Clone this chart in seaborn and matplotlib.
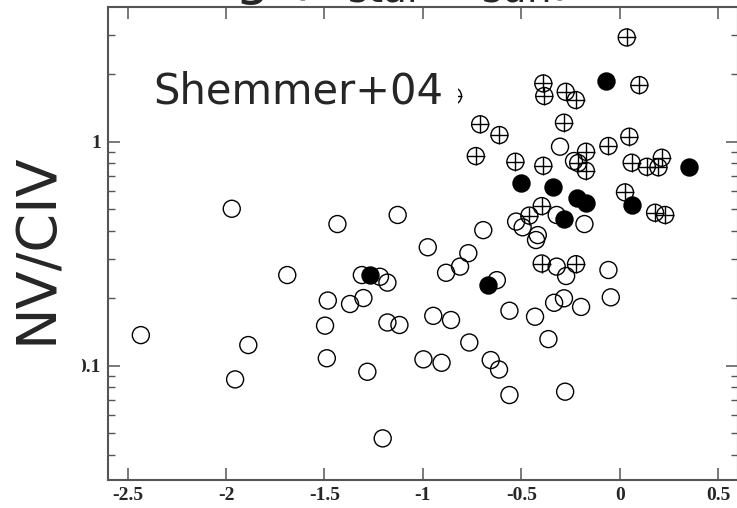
import numpy as np
import pandas as pd
import matplotlib
matplotlib.use("Agg")
import matplotlib.pyplot as plt
import seaborn as sns
from matplotlib.ticker import FixedLocator, LogLocator, NullLocator, NullFormatter
from matplotlib.patches import Rectangle

# ---------------- data ----------------
x_open = [-0.303, -0.232, -0.526, -0.493, -0.320, -0.179, -0.693, -0.416, -0.425, -0.975,
          -0.769, -0.811, -0.882, -0.624, -0.320, -0.272, -0.057, -0.045, -0.283, -0.333,
          -0.196, -0.560, -0.430, -0.947, -0.857, -0.764, -0.362, -0.997, -0.905, -0.655,
          -0.613, -0.560, -0.277, -1.971, -1.434, -1.128, -1.689, -1.310, -1.218, -1.180,
          -1.483, -1.370, -1.302, -1.497, -1.180, -1.119, -2.433, -1.887, -1.954, -1.488,
          -1.282, -1.204]
y_open = [0.950, 0.820, 0.440, 0.415, 0.471, 0.429, 0.403, 0.383, 0.364, 0.338,
          0.318, 0.277, 0.260, 0.241, 0.277, 0.2515, 0.2675, 0.202, 0.200, 0.191,
          0.183, 0.176, 0.1655, 0.167, 0.160, 0.127, 0.1315, 0.1068, 0.1031, 0.106,
          0.0962, 0.074, 0.0766, 0.502, 0.429, 0.471, 0.254, 0.254, 0.2495, 0.235,
          0.1955, 0.1886, 0.2005, 0.151, 0.156, 0.152, 0.137, 0.1237, 0.0869, 0.108,
          0.094, 0.0474]

x_plus = [0.036, -0.388, 0.100, -0.383, -0.274, -0.223, -0.709, -0.611, -0.283, -0.731,
          -0.530, -0.388, -0.171, -0.057, 0.049, -0.211, -0.172, 0.061, 0.138, 0.197,
          0.214, 0.027, 0.180, 0.231, -0.396, -0.459, -0.847, -0.396, -0.222]
y_plus = [2.92, 1.82, 1.79, 1.60, 1.67, 1.535, 1.196, 1.071, 1.216, 0.863,
          0.814, 0.781, 0.902, 0.957, 1.053, 0.803, 0.742, 0.806, 0.773, 0.769,
          0.848, 0.594, 0.482, 0.471, 0.516, 0.468, 1.60, 0.286, 0.284]

x_filled = [-0.071, 0.351, -0.503, -0.340, -0.218, -0.172, 0.061, -0.284, -0.667, -1.268]
y_filled = [1.866, 0.771, 0.652, 0.630, 0.562, 0.534, 0.522, 0.453, 0.229, 0.254]

x_ticks = [-2.5, -2.0, -1.5, -1.0, -0.5, 0.0, 0.5]
x_tick_labels = ["-2.5", "-2", "-1.5", "-1", "-0.5", "0", "0.5"]
y_ticks = [0.1, 1.0]
y_tick_labels = ["0.1", "1"]

df_open = pd.DataFrame({"x": x_open, "y": y_open})
df_plus = pd.DataFrame({"x": x_plus, "y": y_plus})
df_filled = pd.DataFrame({"x": x_filled, "y": y_filled})

# ---------------- figure ----------------
sns.set_style("ticks")
plt.rcParams["font.family"] = ["DejaVu Sans"]

fig = plt.figure(figsize=(7.37, 5.08), dpi=100)
ax = fig.add_axes([0.1465, 0.0551, 0.8545, 0.9305])

S = 150
sns.scatterplot(data=df_open, x="x", y="y", ax=ax, marker="o", s=S,
                color="black", facecolors="none", edgecolors="black",
                linewidth=1.0, zorder=3)
sns.scatterplot(data=df_plus, x="x", y="y", ax=ax, marker="o", s=S,
                color="black", facecolors="none", edgecolors="black",
                linewidth=1.0, zorder=3)
sns.scatterplot(data=df_plus, x="x", y="y", ax=ax, marker="+", s=S,
                color="black", linewidth=1.0, zorder=3)
sns.scatterplot(data=df_filled, x="x", y="y", ax=ax, marker="o", s=S,
                color="black", facecolors="black", edgecolors="black",
                linewidth=1.0, zorder=4)

ax.set_yscale("log")
ax.set_xlim(-2.6, 0.6)
ax.set_ylim(0.0309, 3.98)
ax.set_xlabel("")
ax.set_ylabel("")

ax.xaxis.set_major_locator(FixedLocator(x_ticks))
ax.xaxis.set_minor_locator(NullLocator())
ax.set_xticklabels(x_tick_labels)
ax.yaxis.set_major_locator(FixedLocator(y_ticks))
ax.yaxis.set_minor_locator(LogLocator(base=10, subs=np.arange(2, 10)))
ax.yaxis.set_minor_formatter(NullFormatter())
ax.set_yticklabels(y_tick_labels)

ax.tick_params(which="both", direction="in", top=True, right=True, color="#555555")
ax.tick_params(which="major", length=8.5, width=1.1, pad=5)
ax.tick_params(which="minor", length=4.8, width=1.0)
for lab in ax.get_xticklabels() + ax.get_yticklabels():
    lab.set_fontfamily("Liberation Serif")
    lab.set_fontweight("bold")
    lab.set_fontsize(14)
for sp in ax.spines.values():
    sp.set_color("#555555")
    sp.set_linewidth(1.5)

# annotation with white box
ax.text(0.0715, 0.7975, "Shemmer+04", transform=ax.transAxes, fontsize=30,
        ha="left", va="baseline", zorder=6,
        bbox=dict(boxstyle="square,pad=0.35", facecolor="white", edgecolor="none"))

# y label
fig.text(37 / 737, 1 - 248 / 508, "NV/CIV", rotation=90, fontsize=40,
         ha="center", va="center")

# title cut off at the top of the image
fig.text(378 / 737, 1 - 7 / 508, r"log (Z$_{\rm star}$/Z$_{\rm sun}$)", fontsize=40,
         ha="center", va="bottom")

# the "0" of the 0.1 label is partly hidden in the original
fig.add_artist(Rectangle((60 / 737, 1 - 378 / 508), 22 / 737, 24 / 508,
                         transform=fig.transFigure, facecolor="white",
                         edgecolor="none", zorder=10))

fig.savefig("out.png", dpi=100)
